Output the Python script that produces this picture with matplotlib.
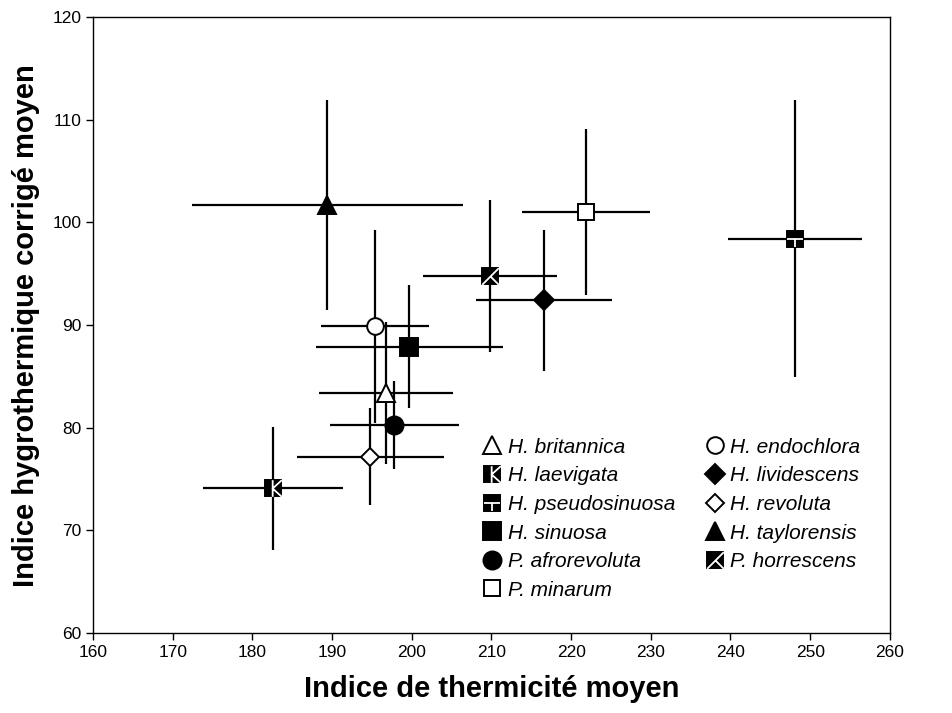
import matplotlib.pyplot as plt
from matplotlib.path import Path

plt.rcParams["font.family"] = ["Liberation Sans", "DejaVu Sans"]

# species: mean thermicity index (x), mean corrected hygrothermal index (y)
species = ["H. britannica", "H. endochlora", "H. laevigata", "H. lividescens",
           "H. pseudosinuosa", "H. revoluta", "H. sinuosa", "H. taylorensis",
           "P. afrorevoluta", "P. horrescens", "P. minarum"]
x_mean = [196.8, 195.4, 182.6, 216.6, 248.1, 194.8, 199.7, 189.4, 197.8, 209.8, 221.9]
y_mean = [83.4, 89.9, 74.1, 92.4, 98.4, 77.2, 87.9, 101.7, 80.3, 94.8, 101.0]
x_err = [8.4, 6.8, 8.8, 8.5, 8.4, 9.2, 11.7, 17.0, 8.1, 8.4, 8.0]
y_err = [6.9, 9.4, 6.0, 6.9, 13.5, 4.7, 6.0, 10.2, 4.3, 7.4, 8.1]

# custom white overlays for the "hatched" square markers
K_MARK = Path([(-0.1, -1), (-0.1, 1), (1, 1), (-0.1, 0), (1, -1)],
              [Path.MOVETO, Path.LINETO, Path.MOVETO, Path.LINETO, Path.LINETO])
KR_MARK = Path([(-1, -1), (1, 1), (0, 0), (1, -1)],
               [Path.MOVETO, Path.LINETO, Path.MOVETO, Path.LINETO])
T_MARK = Path([(-1, 0), (1, 0), (0, 0), (0, -1)],
              [Path.MOVETO, Path.LINETO, Path.MOVETO, Path.LINETO])

# marker, face colour, size, overlay path
styles = {
    "H. britannica": ("^", "white", 13, None),
    "H. endochlora": ("o", "white", 12, None),
    "H. laevigata": ("s", "black", 12, K_MARK),
    "H. lividescens": ("D", "black", 10.5, None),
    "H. pseudosinuosa": ("s", "black", 12, T_MARK),
    "H. revoluta": ("D", "white", 9.5, None),
    "H. sinuosa": ("s", "black", 13, None),
    "H. taylorensis": ("^", "black", 13, None),
    "P. afrorevoluta": ("o", "black", 13, None),
    "P. horrescens": ("s", "black", 12, KR_MARK),
    "P. minarum": ("s", "white", 12, None),
}

fig = plt.figure(figsize=(9.52, 7.13), dpi=100)
ax = fig.add_axes([0.0977, 0.112, 0.837, 0.864])

for i, name in enumerate(species):
    ax.errorbar(x_mean[i], y_mean[i], xerr=x_err[i], yerr=y_err[i], fmt="none",
                ecolor="black", elinewidth=1.6, capsize=0, zorder=2)

handles = {}
for i, name in enumerate(species):
    mk, fc, ms, overlay = styles[name]
    h, = ax.plot(x_mean[i], y_mean[i], linestyle="none", marker=mk, ms=ms,
                 mfc=fc, mec="black", mew=1.4, zorder=3)
    if overlay is not None:
        o, = ax.plot(x_mean[i], y_mean[i], linestyle="none", marker=overlay,
                     ms=ms, mec="white", mfc="none", mew=1.3, zorder=4)
        handles[name] = (h, o)
    else:
        handles[name] = h

ax.set_xlim(160, 260)
ax.set_ylim(60, 120)
ax.set_xticks(range(160, 261, 10))
ax.set_yticks(range(60, 121, 10))
ax.tick_params(axis="both", direction="out", length=5, width=1, labelsize=12.5)
for side in ax.spines.values():
    side.set_linewidth(1)

ax.set_xlabel("Indice de thermicité moyen", fontsize=21, fontweight="bold", labelpad=11)
ax.set_ylabel("Indice hygrothermique corrigé moyen", fontsize=21, fontweight="bold", labelpad=9)

# legend filled row by row, as in the source figure
order = species[0::2] + species[1::2]
leg = fig.legend([handles[n] for n in order], order, ncol=2, loc="upper left",
                 bbox_to_anchor=(0.508, 0.386), bbox_transform=fig.transFigure,
                 frameon=False, prop={"style": "italic", "size": 15},
                 handlelength=0.8, handletextpad=0.35, columnspacing=1.5,
                 labelspacing=0.46, borderpad=0, borderaxespad=0)

fig.savefig("out.png", dpi=100)
